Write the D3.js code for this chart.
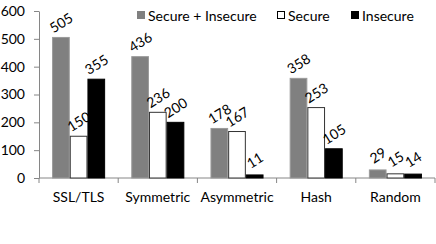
<!DOCTYPE html>
<html>
<head>
<meta charset="utf-8">
<script src="https://cdn.jsdelivr.net/npm/d3@7"></script>
<style>
  body { margin: 0; background: #fff; }
  text { font-family: Lato, "Open Sans", sans-serif; fill: #000; }
</style>
</head>
<body>
<svg id="drawing_region"></svg>
<script>
const categories = ["SSL/TLS", "Symmetric", "Asymmetric", "Hash", "Random"];
const seriesNames = ["Secure + Insecure", "Secure", "Insecure"];
const both = [505, 436, 178, 358, 29];
const secure = [150, 236, 167, 253, 15];
const insecure = [355, 200, 11, 105, 14];
const yTicks = [0, 100, 200, 300, 400, 500, 600];

const seriesValues = [both, secure, insecure];
const fills = ["#808080", "#ffffff", "#000000"];
const strokes = ["#9a9a9a", "#333333", "#000000"];

const width = 436, height = 244;
const margin = {top: 11, right: 1, bottom: 66, left: 39};
const inner_width = width - margin.left - margin.right;
const inner_height = height - margin.top - margin.bottom;

const svg = d3.select('#drawing_region')
    .attr('width', width)
    .attr('height', height);

const chart = svg.append('g')
    .attr('transform', `translate(${margin.left}, ${margin.top})`);

const xscale = d3.scaleBand()
    .domain(categories)
    .range([0, inner_width])
    .paddingInner(0.33)
    .paddingOuter(0.165);

const x1 = d3.scaleBand()
    .domain(seriesNames)
    .range([0, xscale.bandwidth()]);

const yscale = d3.scaleLinear()
    .domain([0, 600])
    .range([inner_height, 0]);

// y axis
const yaxis_group = chart.append('g')
    .call(d3.axisLeft(yscale).tickValues(yTicks).tickSize(5).tickSizeOuter(0).tickPadding(9));
yaxis_group.select('.domain').attr('stroke', '#868686');
yaxis_group.selectAll('.tick line').attr('stroke', '#868686');
yaxis_group.selectAll('text').attr('font-size', '14px').style('font-family', 'Lato');

// x axis with ticks at category boundaries
const step = inner_width / categories.length;
const xaxis_group = chart.append('g')
    .attr('transform', `translate(0, ${inner_height})`);
xaxis_group.append('line')
    .attr('x1', 0).attr('x2', inner_width)
    .attr('stroke', '#868686');
xaxis_group.selectAll('.bound')
    .data(d3.range(categories.length + 1))
    .join('line')
    .attr('x1', i => i * step).attr('x2', i => i * step)
    .attr('y1', 0).attr('y2', 5)
    .attr('stroke', '#868686');
xaxis_group.selectAll('.lab')
    .data(categories)
    .join('text')
    .attr('x', d => xscale(d) + xscale.bandwidth() / 2)
    .attr('y', 24)
    .attr('text-anchor', 'middle')
    .attr('font-size', '14px')
    .text(d => d);

// bars + labels, series in order
seriesNames.forEach((name, s) => {
    const g = chart.append('g');
    g.selectAll('rect')
        .data(categories)
        .join('rect')
        .attr('x', (d, i) => xscale(d) + x1(name) + 0.5)
        .attr('y', (d, i) => yscale(seriesValues[s][i]))
        .attr('width', x1.bandwidth() - 1)
        .attr('height', (d, i) => inner_height - yscale(seriesValues[s][i]))
        .attr('fill', fills[s])
        .attr('stroke', strokes[s]);
    g.selectAll('text')
        .data(categories)
        .join('text')
        .attr('transform', (d, i) => {
            const cx = xscale(d) + x1(name) + x1.bandwidth() / 2;
            const cy = yscale(seriesValues[s][i]) - 15;
            return `translate(${cx}, ${cy}) rotate(-32)`;
        })
        .attr('text-anchor', 'middle')
        .attr('dominant-baseline', 'central')
        .attr('font-size', '14px')
        .text((d, i) => seriesValues[s][i]);
});

// legend
const legendX = [137, 277, 351];
const legend = svg.append('g');
seriesNames.forEach((name, s) => {
    legend.append('rect')
        .attr('x', legendX[s] + 0.5).attr('y', 11.5)
        .attr('width', 7).attr('height', 7)
        .attr('fill', fills[s])
        .attr('stroke', s === 0 ? fills[0] : '#000');
    legend.append('text')
        .attr('x', legendX[s] + 11)
        .attr('y', 15)
        .attr('dominant-baseline', 'central')
        .attr('font-size', '14px')
        .text(name);
});
</script>
</body>
</html>
